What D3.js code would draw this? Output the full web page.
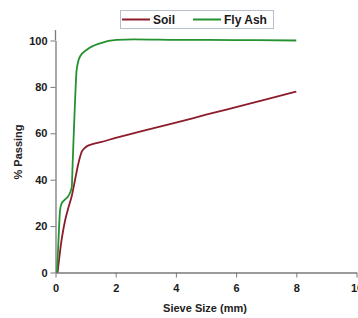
<!DOCTYPE html>
<html>
<head>
<meta charset="utf-8">
<script src="https://cdn.jsdelivr.net/npm/d3@7"></script>
<style>
  body { margin: 0; background: #fff; }
  text { font-family: "Liberation Sans", Arial, sans-serif; font-weight: bold; }
</style>
</head>
<body>
<svg id="chart" width="358" height="318"></svg>
<script>
// data
var soilX = [0.07, 0.2, 0.32, 0.43, 0.54, 0.65, 0.76, 0.87, 1.0, 1.2, 1.5, 2, 3, 4, 5, 6, 7, 8];
var soilY = [0, 13.8, 22.5, 28, 33, 40, 47, 52, 54, 55.2, 56.2, 58, 61.4, 64.6, 68, 71.3, 74.6, 78];
var ashX = [0.05, 0.1, 0.15, 0.2, 0.32, 0.43, 0.54, 0.57, 0.61, 0.65, 0.7, 0.81, 1.04, 1.48, 2.03, 2.6, 4, 6, 8];
var ashY = [0, 14, 26.7, 29.7, 31.5, 33, 36.8, 47, 61, 74, 87, 93, 96, 98.8, 100.3, 100.5, 100.3, 100.2, 100];
var xTicks = [0, 2, 4, 6, 8, 10];
var yTicks = [0, 20, 40, 60, 80, 100];
var seriesNames = ["Soil", "Fly Ash"];
var colors = ["#8c1c2c", "#23922f"];

var svg = d3.select("#chart");

var x = d3.scaleLinear().domain([0, 10]).range([55.5, 356.5]);
var y = d3.scaleLinear().domain([0, 100]).range([272.5, 40.5]);

// axes
var xAxis = d3.axisBottom(x).tickValues(xTicks).tickSize(5).tickSizeOuter(0);
var yAxis = d3.axisLeft(y).tickValues(yTicks).tickSize(5).tickSizeOuter(0);

var gx = svg.append("g").attr("transform", "translate(0," + y(0) + ")").call(xAxis);
var gy = svg.append("g").attr("transform", "translate(" + x(0) + ",0)").call(yAxis);

[gx, gy].forEach(function (g) {
    g.select(".domain").attr("stroke", "#7a7a7a").attr("stroke-width", 1.3);
    g.selectAll(".tick line").attr("stroke", "#7a7a7a");
    g.selectAll(".tick text").attr("fill", "#1a1a1a")
        .style("font-size", "11px").style("font-weight", "bold")
        .style("font-family", "'Liberation Sans', Arial, sans-serif");
});
gx.selectAll(".tick text").attr("dy", "1.05em");
gy.selectAll(".tick text").attr("x", -8);

// y axis line goes a bit above 100
gy.append("line").attr("x1", 0).attr("x2", 0)
    .attr("y1", y(100)).attr("y2", y(104.5))
    .attr("stroke", "#7a7a7a").attr("stroke-width", 1.3);

// axis titles
svg.append("text").attr("x", 205).attr("y", 312)
    .attr("text-anchor", "middle").style("font-size", "11px").attr("fill", "#222")
    .text("Sieve Size (mm)");
svg.append("text").attr("transform", "translate(22,152) rotate(-90)")
    .attr("text-anchor", "middle").style("font-size", "11px").attr("fill", "#222")
    .text("% Passing");

// curves
var line = d3.line()
    .x(function (d) { return x(d[0]); })
    .y(function (d) { return y(d[1]); })
    .curve(d3.curveMonotoneX);

var soil = soilX.map(function (v, i) { return [v, soilY[i]]; });
var ash = ashX.map(function (v, i) { return [v, ashY[i]]; });

[soil, ash].forEach(function (data, i) {
    svg.append("path").datum(data)
        .attr("fill", "none")
        .attr("stroke", colors[i])
        .attr("stroke-width", 1.8)
        .attr("d", line);
});

// legend
var lg = svg.append("g");
lg.append("rect").attr("x", 120.5).attr("y", 10.5).attr("width", 153).attr("height", 18)
    .attr("fill", "#fff").attr("stroke", "#b8bfcc");
var legX = [122, 193];
seriesNames.forEach(function (name, i) {
    lg.append("line").attr("x1", legX[i]).attr("x2", legX[i] + 28)
        .attr("y1", 19.5).attr("y2", 19.5)
        .attr("stroke", colors[i]).attr("stroke-width", 2);
    lg.append("text").attr("x", legX[i] + 31).attr("y", 23.5)
        .style("font-size", "12px").attr("fill", "#1a1a1a")
        .text(name);
});
</script>
</body>
</html>
